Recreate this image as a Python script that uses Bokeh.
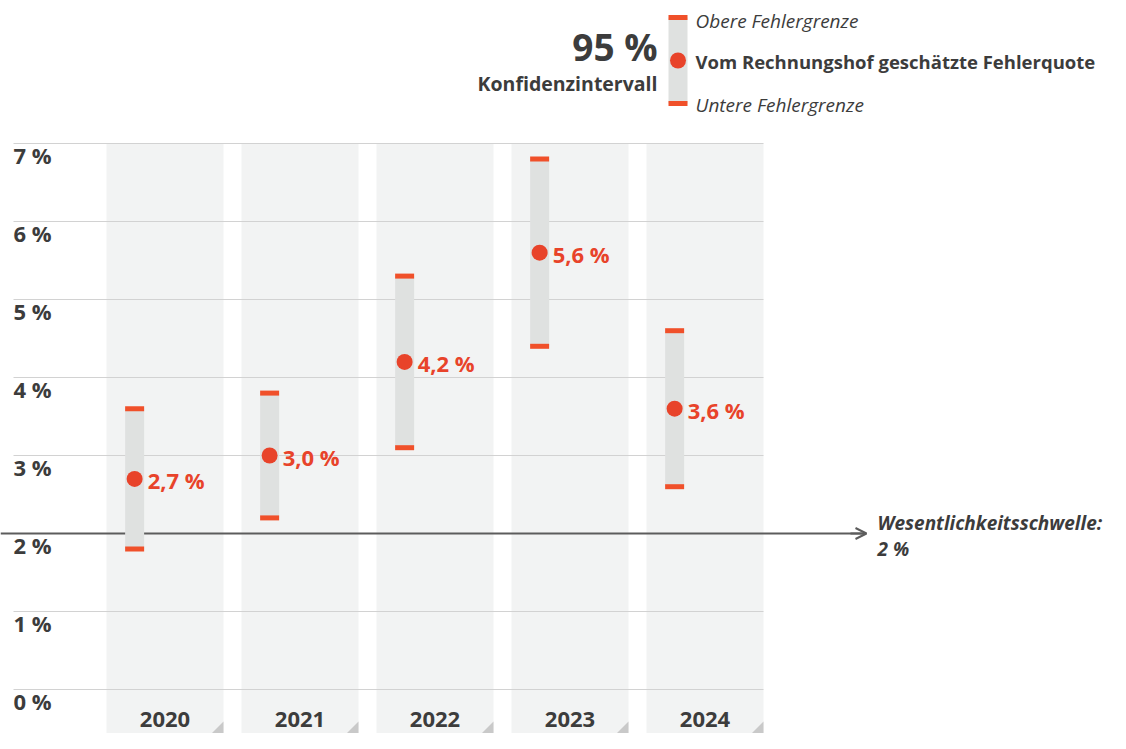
from bokeh.plotting import figure
from bokeh.models import Range1d, Arrow, OpenHead
from bokeh.core.properties import value
from bokeh.embed import file_html
from bokeh.resources import INLINE

# ---- data ----
years = ["2020", "2021", "2022", "2023", "2024"]
estimate = [2.7, 3.0, 4.2, 5.6, 3.6]
upper = [3.6, 3.8, 5.3, 6.8, 4.6]
lower = [1.8, 2.2, 3.1, 4.4, 2.6]
threshold = 2.0
y_ticks = [0, 1, 2, 3, 4, 5, 6, 7]
y_tick_labels = ["0 %", "1 %", "2 %", "3 %", "4 %", "5 %", "6 %", "7 %"]
value_labels = [f"{v:.1f} %".replace(".", ",") for v in estimate]

# ---- layout constants (pixel mapping) ----
X0, DX = 164.5, 135.0   # centre of first band, px per category
Y0, DY = 689.0, 78.0    # px of 0 %, px per 1 %
def fx(px): return (px - X0) / DX
def fy(py): return (Y0 - py) / DY

FONT = value("Open Sans")
DARK = "#3c3c3c"
ORANGE = "#e8432a"
TICK = "#f0502a"
BAR = "#dfe1e0"
BAND = "#f2f3f3"
GRID = "#d2d2d2"

W, H = 1110, 733
p = figure(width=W, height=H, output_backend="svg", toolbar_location=None,
           x_range=Range1d(fx(0), fx(W)), y_range=Range1d(fy(H), fy(0)),
           x_axis_type=None, y_axis_type=None, min_border=0,
           outline_line_color=None, background_fill_color="white")
p.grid.visible = False

idx = list(range(len(years)))
band_w = 117 / DX
ybot = fy(H)

# background bands
p.vbar(x=idx, width=band_w, top=max(y_ticks), bottom=ybot - 0.1,
       fill_color=BAND, line_color=None)

# folded corners
tri = 12
xs, ys = [], []
for i in idx:
    r = i + band_w / 2
    xs.append([r, r, r - tri / DX])
    ys.append([ybot, ybot + tri / DY, ybot])
p.patches(xs=xs, ys=ys, fill_color="#c9c9c9", line_color=None)

# gridlines
p.segment(x0=[fx(13)] * len(y_ticks), x1=[len(years) - 1 + band_w / 2] * len(y_ticks),
          y0=y_ticks, y1=y_ticks, line_color=GRID, line_width=1)

# y tick labels
p.text(x=[fx(13)] * len(y_ticks), y=y_ticks, text=y_tick_labels,
       text_font=FONT, text_font_style="bold", text_font_size="22px",
       text_color=DARK, text_baseline="top", text_align="left", y_offset=-4)

# threshold line
p.segment(x0=[fx(0)], x1=[fx(864)], y0=[threshold], y1=[threshold],
          line_color="#5c5c5c", line_width=2)
p.add_layout(Arrow(end=OpenHead(size=11, line_color="#5c5c5c", line_width=2),
                   x_start=fx(850), x_end=fx(866), y_start=threshold, y_end=threshold,
                   line_color="#5c5c5c", line_width=2))
p.text(x=[fx(877)], y=[threshold], text=["Wesentlichkeitsschwelle:"],
       text_font=FONT, text_font_style="bold italic", text_font_size="19px",
       text_color=DARK, text_baseline="middle", y_offset=-11)
p.text(x=[fx(877)], y=[threshold], text=["2 %"],
       text_font=FONT, text_font_style="bold italic", text_font_size="19px",
       text_color=DARK, text_baseline="middle", y_offset=15)

# error bars
off = -0.225
bx = [i + off for i in idx]
bw = 19 / DX
p.vbar(x=bx, width=bw, top=upper, bottom=lower, fill_color=BAR, line_color=None)
p.rect(x=bx, y=upper, width=bw, height=5, height_units="screen",
       fill_color=TICK, line_color=None)
p.rect(x=bx, y=lower, width=bw, height=5, height_units="screen",
       fill_color=TICK, line_color=None)
p.scatter(x=bx, y=estimate, size=16, fill_color=ORANGE, line_color=None)
p.text(x=bx, y=estimate, text=value_labels, text_font=FONT, text_font_style="bold",
       text_font_size="22px", text_color=ORANGE, text_baseline="middle",
       x_offset=13, y_offset=1)

# year labels
p.text(x=idx, y=[ybot] * len(years), text=years, text_font=FONT,
       text_font_style="bold", text_font_size="22px", text_color=DARK,
       text_align="center", text_baseline="alphabetic", y_offset=-14)

# legend
lx = fx(677.5)
p.vbar(x=[lx], width=bw, top=[fy(17)], bottom=[fy(103)], fill_color=BAR, line_color=None)
p.rect(x=[lx, lx], y=[fy(17), fy(103)], width=bw, height=5, height_units="screen",
       fill_color=TICK, line_color=None)
p.scatter(x=[lx], y=[fy(60)], size=16, fill_color=ORANGE, line_color=None)
p.text(x=[fx(695)], y=[fy(20)], text=["Obere Fehlergrenze"], text_font=FONT,
       text_font_style="italic", text_font_size="19px", text_color=DARK,
       text_baseline="middle")
p.text(x=[fx(695)], y=[fy(61)], text=["Vom Rechnungshof geschätzte Fehlerquote"],
       text_font=FONT, text_font_style="bold", text_font_size="18.5px",
       text_color=DARK, text_baseline="middle")
p.text(x=[fx(695)], y=[fy(104)], text=["Untere Fehlergrenze"], text_font=FONT,
       text_font_style="italic", text_font_size="19px", text_color=DARK,
       text_baseline="middle")
p.text(x=[fx(657)], y=[fy(46)], text=["95 %"], text_font=FONT,
       text_font_style="bold", text_font_size="37px", text_color=DARK,
       text_baseline="middle", text_align="right")
p.text(x=[fx(657)], y=[fy(83)], text=["Konfidenzintervall"], text_font=FONT,
       text_font_style="bold", text_font_size="19.5px", text_color=DARK,
       text_baseline="middle", text_align="right")

open("out.html", "w").write(file_html(p, INLINE))
